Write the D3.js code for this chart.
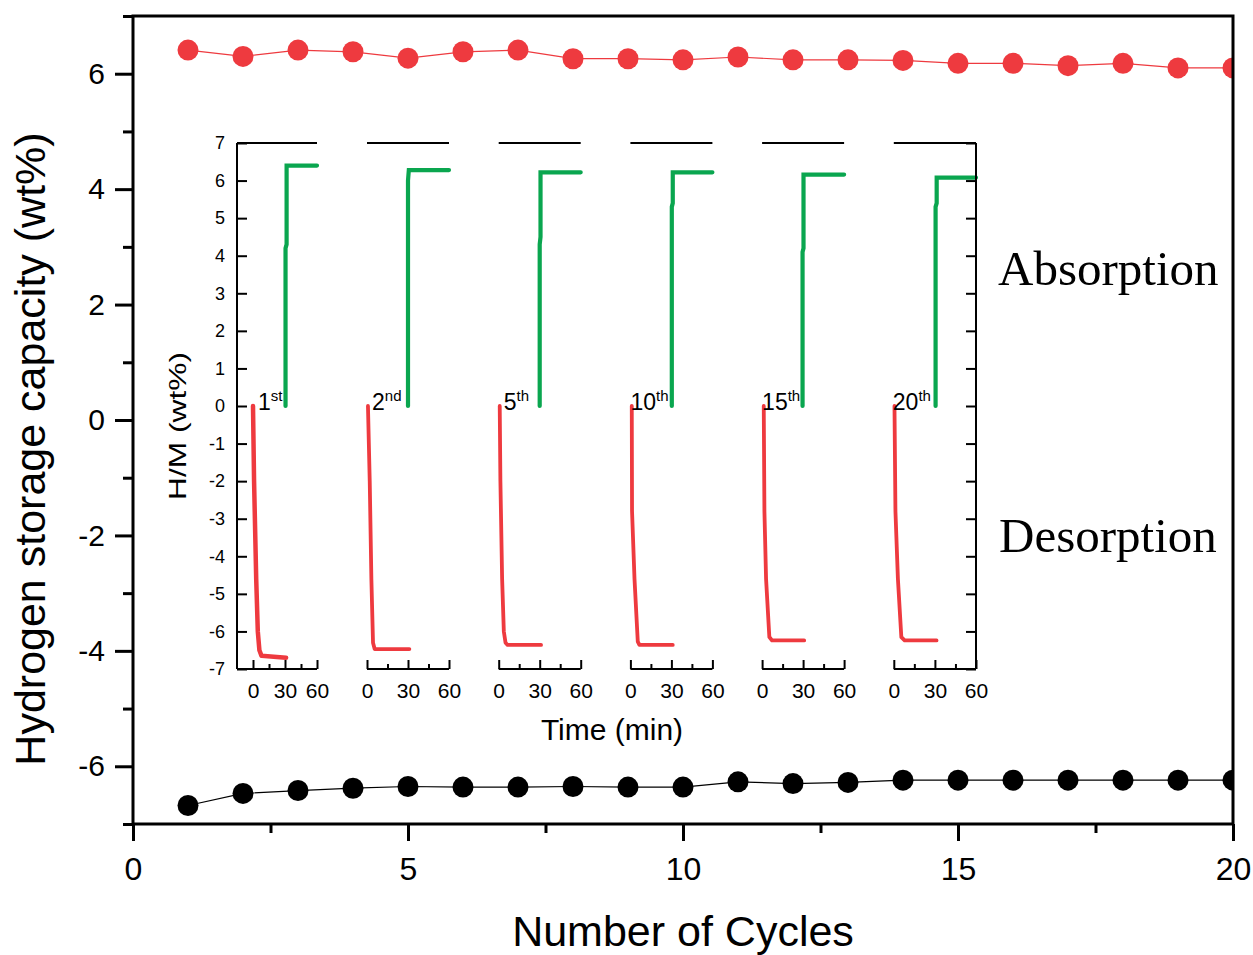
<!DOCTYPE html>
<html><head><meta charset="utf-8">
<script src="https://cdn.jsdelivr.net/npm/d3@7"></script>
<style>
body{margin:0;background:#fff}
svg{display:block}
text{font-family:"Liberation Sans",Arial,Helvetica,sans-serif;fill:#000}
</style>
</head><body>
<svg id="c" width="1253" height="955"></svg>
<script>
// ---------- DATA ----------
const cycles = [1,2,3,4,5,6,7,8,9,10,11,12,13,14,15,16,17,18,19,20];
const absorption = [6.41,6.30,6.41,6.38,6.27,6.38,6.41,6.26,6.26,6.24,6.29,6.24,6.24,6.23,6.18,6.18,6.14,6.18,6.10,6.10];
const desorption = [-6.68,-6.47,-6.42,-6.38,-6.35,-6.36,-6.36,-6.35,-6.36,-6.36,-6.27,-6.30,-6.28,-6.24,-6.24,-6.24,-6.24,-6.24,-6.24,-6.24];
const xTicksMain = [0,5,10,15,20];
const xMinorMain = [2.5,7.5,12.5,17.5];
const yTicksMain = [-6,-4,-2,0,2,4,6];
const yMinorMain = [-7,-5,-3,-1,1,3,5,7];

const cycleNumbers = ["1","2","5","10","15","20"];
const cycleSuffixes = ["st","nd","th","th","th","th"];
const insetTimeTicks = [0,30,60];
const insetTimeMinor = [15,45];
const insetYTicks = [-7,-6,-5,-4,-3,-2,-1,0,1,2,3,4,5,6,7];

// inset curves: [time (min), H/M (wt%)]
const desorb1st  = [[0,0],[1,-2],[3,-4.6],[4.5,-6],[6,-6.5],[8,-6.65],[31,-6.7]];
const absorb1st  = [[30.5,0],[30.5,4.2],[31.5,4.3],[31.5,6.4],[60,6.4]];
const desorb2nd  = [[0.7,0],[2,-2],[3.2,-4.6],[4.4,-6.3],[5.6,-6.47],[31,-6.47]];
const absorb2nd  = [[30,0],[30,6.0],[30.6,6.28],[60,6.28]];
const desorb5th  = [[0.75,0],[1.25,-2],[2.5,-4.6],[3.75,-6],[5,-6.3],[6.5,-6.36],[31,-6.36]];
const absorb5th  = [[30,0],[30,4.3],[30.6,4.5],[30.6,6.22],[60,6.22]];
const desorb10th = [[1,0],[1.2,-2.8],[3,-4.6],[5.4,-6.27],[6.6,-6.36],[31,-6.36]];
const absorb10th = [[30.3,0],[30.3,5.3],[31,5.4],[31,6.22],[60,6.22]];
const desorb15th = [[1.2,0],[1.7,-2.8],[2.9,-4.6],[5.3,-6.15],[7.3,-6.24],[30.8,-6.24]];
const absorb15th = [[29.6,0],[29.6,4.1],[30.3,4.2],[30.3,6.16],[60,6.16]];
const desorb20th = [[0.5,0],[1.2,-2.8],[3,-4.6],[5.5,-6.15],[7.9,-6.24],[31.2,-6.24]];
const absorb20th = [[30.5,0],[30.5,5.3],[31.3,5.4],[31.3,6.08],[60,6.08]];
const desorbCurves = [desorb1st,desorb2nd,desorb5th,desorb10th,desorb15th,desorb20th];
const absorbCurves = [absorb1st,absorb2nd,absorb5th,absorb10th,absorb15th,absorb20th];

// ---------- LAYOUT ----------
const RED = "#ee3a3f", GREEN = "#0aa64f";
const svg = d3.select("#c");
const L = 133, R = 1233, T = 16, B = 824;
const x = d3.scaleLinear().domain([0,20]).range([L,R]);
const y = d3.scaleLinear().domain([-7,7]).range([B,T]);

function styleAxis(g, w){
  g.select(".domain").remove();
  g.selectAll(".tick line").attr("stroke","#000").attr("stroke-width",w);
}

// main axes
const gx = svg.append("g").attr("transform",`translate(0,${B})`)
  .call(d3.axisBottom(x).tickValues(xTicksMain).tickSize(17).tickPadding(16).tickFormat(d=>String(d)).tickSizeOuter(0));
styleAxis(gx,3);
gx.selectAll("text").attr("font-size",32).attr("font-family",null);
const gxm = svg.append("g").attr("transform",`translate(0,${B})`)
  .call(d3.axisBottom(x).tickValues(xMinorMain).tickSize(9).tickFormat("").tickSizeOuter(0));
styleAxis(gxm,3);

const gy = svg.append("g").attr("transform",`translate(${L},0)`)
  .call(d3.axisLeft(y).tickValues(yTicksMain).tickSize(18).tickPadding(10).tickFormat(d=>String(d)).tickSizeOuter(0));
styleAxis(gy,3);
gy.selectAll("text").attr("font-size",30).attr("font-family",null);
const gym = svg.append("g").attr("transform",`translate(${L},0)`)
  .call(d3.axisLeft(y).tickValues(yMinorMain).tickSize(10).tickFormat("").tickSizeOuter(0));
styleAxis(gym,3);

// clip
svg.append("clipPath").attr("id","plotclip").append("rect")
  .attr("x",L).attr("y",T).attr("width",R-L).attr("height",B-T);
const plot = svg.append("g").attr("clip-path","url(#plotclip)");

const lineMain = (vals) => d3.line().x((d,i)=>x(cycles[i])).y(d=>y(d))(vals);
plot.append("path").attr("d",lineMain(absorption)).attr("fill","none").attr("stroke",RED).attr("stroke-width",1.2);
plot.append("path").attr("d",lineMain(desorption)).attr("fill","none").attr("stroke","#000").attr("stroke-width",1.2);
plot.selectAll("circle.a").data(absorption).join("circle").attr("class","a")
  .attr("cx",(d,i)=>x(cycles[i])).attr("cy",d=>y(d)).attr("r",10.5).attr("fill",RED);
plot.selectAll("circle.d").data(desorption).join("circle").attr("class","d")
  .attr("cx",(d,i)=>x(cycles[i])).attr("cy",d=>y(d)).attr("r",10.5).attr("fill","#000");

// frame
svg.append("rect").attr("x",L).attr("y",T).attr("width",R-L).attr("height",B-T)
  .attr("fill","none").attr("stroke","#000").attr("stroke-width",3);

// titles
svg.append("text").attr("transform","translate(45,449) rotate(-90)").attr("text-anchor","middle")
  .attr("font-size",43).text("Hydrogen storage capacity (wt%)");
svg.append("text").attr("x",(L+R)/2).attr("y",946).attr("text-anchor","middle")
  .attr("font-size",43).text("Number of Cycles");

svg.append("text").attr("x",998).attr("y",285).attr("font-size",49)
  .style("font-family","'Liberation Serif','Times New Roman',serif").text("Absorption");
svg.append("text").attr("x",999).attr("y",552).attr("font-size",49)
  .style("font-family","'Liberation Serif','Times New Roman',serif").text("Desorption");

// ---------- INSET ----------
const IT = 143, IB = 669, IL = 237, IR = 976;
const yIn = d3.scaleLinear().domain([-7,7]).range([IB,IT]);
const panelScales = cycleNumbers.map((c,i)=>{
  if(i===0) return d3.scaleLinear().domain([-15,60]).range([IL,317]);
  const r0 = 367 + (i-1)*131.7;
  return d3.scaleLinear().domain([0,60]).range([r0, i===5 ? IR : r0+82]);
});
const labelDx = [5,5,5,0,0,-1];

const inset = svg.append("g");
panelScales.forEach((xs,i)=>{
  const [r0,r1] = xs.range();
  inset.append("line").attr("x1",r0).attr("x2",r1).attr("y1",IT).attr("y2",IT)
    .attr("stroke","#000").attr("stroke-width",2);
  inset.append("line").attr("x1",r0).attr("x2",r1).attr("y1",IB).attr("y2",IB)
    .attr("stroke","#000").attr("stroke-width",2);
  const ga = inset.append("g").attr("transform",`translate(0,${IB})`)
    .call(d3.axisBottom(xs).tickValues(insetTimeTicks).tickSize(-9).tickPadding(14).tickFormat(d=>String(d)).tickSizeOuter(0));
  styleAxis(ga,2);
  ga.selectAll("text").attr("font-size",21).attr("font-family",null);
  const gm = inset.append("g").attr("transform",`translate(0,${IB})`)
    .call(d3.axisBottom(xs).tickValues(insetTimeMinor).tickSize(-5).tickFormat("").tickSizeOuter(0));
  styleAxis(gm,2);

  const ln = d3.line().x(d=>xs(d[0])).y(d=>yIn(d[1]));
  inset.append("path").attr("d",ln(desorbCurves[i])).attr("fill","none").attr("stroke",RED)
    .attr("stroke-width", i===0?4.5:3.8).attr("stroke-linejoin","round").attr("stroke-linecap","round");
  inset.append("path").attr("d",ln(absorbCurves[i])).attr("fill","none").attr("stroke",GREEN)
    .attr("stroke-width",4.2).attr("stroke-linejoin","miter").attr("stroke-linecap","round");

  const t = inset.append("text").attr("x",xs(0)+labelDx[i]).attr("y",410).attr("font-size",23);
  t.append("tspan").text(cycleNumbers[i]);
  t.append("tspan").attr("font-size",15).attr("dy",-9).text(cycleSuffixes[i]);
});

// inset left and right axes
inset.append("line").attr("x1",IL).attr("x2",IL).attr("y1",IT).attr("y2",IB).attr("stroke","#000").attr("stroke-width",2);
inset.append("line").attr("x1",IR).attr("x2",IR).attr("y1",IT).attr("y2",IB).attr("stroke","#000").attr("stroke-width",2);
const gyl = inset.append("g").attr("transform",`translate(${IL},0)`)
  .call(d3.axisLeft(yIn).tickValues(insetYTicks).tickSize(-10).tickPadding(12).tickFormat(d=>String(d)).tickSizeOuter(0));
styleAxis(gyl,2);
gyl.selectAll("text").attr("font-size",18).attr("font-family",null);
const gyr = inset.append("g").attr("transform",`translate(${IR},0)`)
  .call(d3.axisRight(yIn).tickValues(insetYTicks).tickSize(-10).tickFormat("").tickSizeOuter(0));
styleAxis(gyr,2);

inset.append("text").attr("x",612).attr("y",740).attr("text-anchor","middle").attr("font-size",30).text("Time (min)");
inset.append("text").attr("transform","translate(186,426) rotate(-90)").attr("text-anchor","middle")
  .attr("font-size",24).attr("textLength",148).attr("lengthAdjust","spacingAndGlyphs").text("H/M (wt%)");
</script>
</body></html>
